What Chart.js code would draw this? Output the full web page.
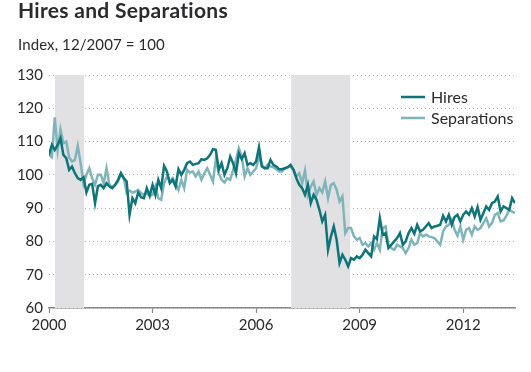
<!DOCTYPE html>
<html>
<head>
<meta charset="utf-8">
<script src="https://cdn.jsdelivr.net/npm/chart.js@4"></script>
<style>
  html, body { margin: 0; padding: 0; background: #fff; }
  body { width: 531px; height: 372px; position: relative; overflow: hidden; font-family: Lato, "Open Sans", sans-serif; color: #2b2b2e; }
  #title { position: absolute; left: 18px; top: -3px; font-size: 21px; font-weight: 700; letter-spacing: 0.3px; white-space: nowrap; }
  #subtitle { position: absolute; left: 18px; top: 35px; font-size: 15px; letter-spacing: 0.1px; white-space: nowrap; }
  #wrap { position: absolute; left: 0; top: 0; width: 531px; height: 372px; }
</style>
</head>
<body>
<div id="wrap"><canvas id="c" width="531" height="372"></canvas></div>
<div id="title">Hires and Separations</div>
<div id="subtitle">Index, 12/2007 = 100</div>
<script>
// Month index 0 = first observation (axis label "2000")
const hires = [
  106,109,107.5,109,111,106,105,101.5,102.5,100.5,
  99,98.5,99.3,94.7,97,97.3,91.5,96.6,97,96,
  97.5,96.5,96,97,98.5,100.5,99,98,88,93,
  91.5,94.7,93.3,93,96,93.7,97,94,98.5,96,
  102.7,101,97.5,98.5,96.5,101.7,100,101.5,103.5,104,
  103,103.3,103.5,104.7,104.5,105,106,107.7,107.5,101.5,
  103.5,100,102,105.5,103.5,100.5,106.5,104.7,106.5,103,
  103.5,103,104,108.3,102.5,102,102,104.5,103,102.5,
  101.7,101.7,102,102.3,103,101.5,99,97,96,94,
  97,91.5,94,92.5,89.5,86,88,77.5,81.5,84.5,
  80.5,73.5,76,74.5,72.5,75,74.5,75.5,75,76,
  77.5,76.5,75.5,81.5,80.7,87,82,82.5,78,79,
  80,81,82.5,79,80,82.5,84,82.3,85,83,
  83.5,84.5,85.5,84,84.5,84.7,85,87.7,86,88,
  85,87.3,88,86,88,89,88,90,87.5,90.3,
  86.5,88.5,90.5,89.5,91.5,92,93.5,89,90.5,90,
  89.5,93,91.5
];
const separations = [
  106,105.3,117.3,107.5,113.7,109.5,110,105.3,104,104.5,
  108.7,103.5,97.3,100,102,99,97,100,100,97.5,
  102,97,96.3,97,98,100.5,99,94.5,95.3,94.7,
  95,95.5,94.5,94,94.5,93.7,94,96.5,93,92.5,
  97.5,99.5,98,99,97.5,95.5,98.5,96,101.5,100.7,
  101,99.5,101,98.5,100.5,102,100,98,104.7,100.5,
  98.5,97.7,99,98.5,101.5,104.5,108,105.5,99.5,102,
  100,101,102,105.5,103,102,103,102.5,102.3,101.7,
  101,101,102,102.3,102.5,101.5,99.5,100.5,97.5,101.3,
  94,96.5,98,94,96,94.7,98,93,97,97.5,
  95.5,92,93.5,82.5,84,84,81.5,80.5,81,79,
  79.5,78.5,79.5,77.5,79.5,77.5,84,84.5,79,78,
  77.5,79,78.5,78,76.5,78,80.5,79,79.5,82.5,
  81.5,82,81.5,81.3,81,80,79,83,84.5,85,
  86.5,83.5,81.7,84.5,80.5,83.5,84,82,84.5,83.5,
  84,85.5,87,84.5,85.5,88,88.5,86,86.3,87.7,
  89.5,89,88.5
];
const seriesLabels = ['Hires', 'Separations'];
const xTickPositions = [0, 36, 72, 108, 144];
const xTickLabels = ['2000', '2003', '2006', '2009', '2012'];
const yTickValues = [60, 70, 80, 90, 100, 110, 120, 130];
// Shaded recession periods, in month index units
const recessionStarts = [2.1, 84.2];
const recessionEnds = [12.2, 104.7];

const DARK = '#0d7479';
const LIGHT = '#7fb5ba';
const FONT = 'Lato, "Open Sans", sans-serif';

const toPoints = arr => arr.map((v, i) => ({ x: i, y: v }));

const shadePlugin = {
  id: 'shade',
  beforeDatasetsDraw(chart) {
    const { ctx, chartArea, scales } = chart;
    ctx.save();
    ctx.fillStyle = '#e1e1e3';
    for (let k = 0; k < recessionStarts.length; k++) {
      const x0 = scales.x.getPixelForValue(recessionStarts[k]);
      const x1 = scales.x.getPixelForValue(recessionEnds[k]);
      ctx.fillRect(x0, chartArea.top, x1 - x0, chartArea.bottom - chartArea.top);
    }
    ctx.restore();
  }
};

const legendPlugin = {
  id: 'customLegend',
  afterDraw(chart) {
    const { ctx } = chart;
    ctx.save();
    ctx.font = '16px ' + FONT;
    ctx.textBaseline = 'middle';
    chart.data.datasets.forEach((ds, i) => {
      const y = 97 + i * 21;
      ctx.strokeStyle = ds.borderColor;
      ctx.lineWidth = 2.5;
      ctx.beginPath();
      ctx.moveTo(401, y);
      ctx.lineTo(425, y);
      ctx.stroke();
      ctx.fillStyle = '#2b2b2e';
      ctx.fillText(ds.label, 431, y + 1);
    });
    ctx.restore();
  }
};

new Chart(document.getElementById('c'), {
  type: 'line',
  data: {
    datasets: [
      { label: seriesLabels[0], data: toPoints(hires), borderColor: DARK, borderWidth: 2.5, pointRadius: 0, tension: 0 },
      { label: seriesLabels[1], data: toPoints(separations), borderColor: LIGHT, borderWidth: 2.5, pointRadius: 0, tension: 0 }
    ]
  },
  options: {
    responsive: false,
    animation: false,
    devicePixelRatio: 1,
    layout: { padding: { left: 18, right: 16, top: 75, bottom: 0 } },
    plugins: { legend: { display: false }, tooltip: { enabled: false }, title: { display: false } },
    scales: {
      x: {
        type: 'linear',
        min: 0,
        max: 162,
        afterBuildTicks(scale) { scale.ticks = xTickPositions.map(v => ({ value: v })); },
        afterFit(scale) { scale.height = 64; },
        ticks: {
          autoSkip: false,
          maxRotation: 0,
          padding: 3,
          color: '#2b2b2e',
          font: { family: FONT, size: 15 },
          callback: (v) => { const k = xTickPositions.indexOf(v); return k >= 0 ? xTickLabels[k] : ''; }
        },
        grid: { drawOnChartArea: false, drawTicks: true, tickLength: 5, color: '#8a8a8a', tickWidth: 1.2 },
        border: { display: true, color: '#8a8a8a', width: 1.5 }
      },
      y: {
        min: 60,
        max: 130,
        afterBuildTicks(scale) { scale.ticks = yTickValues.map(v => ({ value: v })); },
        afterFit(scale) { scale.width = 31; },
        ticks: { padding: 6, color: '#2b2b2e', font: { family: FONT, size: 15 } },
        grid: { drawTicks: false, color: '#b5b5b5', lineWidth: 1, borderDash: [1, 3] },
        border: { display: false, dash: [1, 3] }
      }
    }
  },
  plugins: [shadePlugin, legendPlugin]
});
</script>
</body>
</html>
